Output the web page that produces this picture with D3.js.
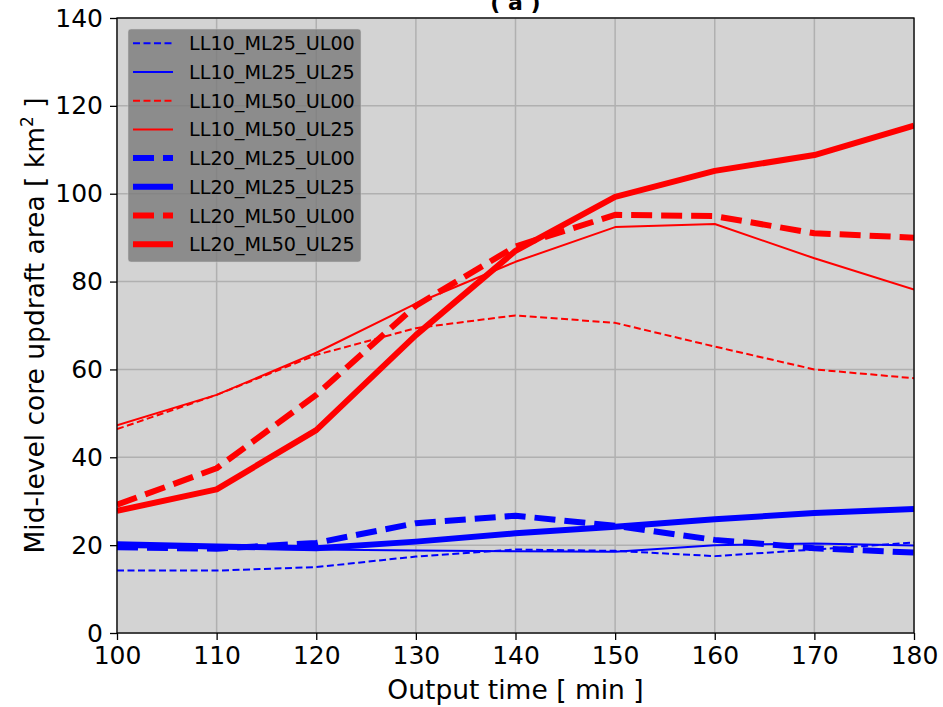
<!DOCTYPE html>
<html>
<head>
<meta charset="utf-8">
<script src="https://cdn.jsdelivr.net/npm/d3@7"></script>
<style>
  html, body { margin: 0; padding: 0; background: #fff; }
  svg { display: block; font-family: "DejaVu Sans", sans-serif; }
</style>
</head>
<body>
<svg id="chart" width="943" height="707"></svg>
<script>
// Mid-level core updraft area vs output time, panel (a)

const times = [100, 110, 120, 130, 140, 150, 160, 170, 180];
const xTicks = [100, 110, 120, 130, 140, 150, 160, 170, 180];
const yTicks = [0, 20, 40, 60, 80, 100, 120, 140];

const seriesNames = [
  "LL10_ML25_UL00", "LL10_ML25_UL25", "LL10_ML50_UL00", "LL10_ML50_UL25",
  "LL20_ML25_UL00", "LL20_ML25_UL25", "LL20_ML50_UL00", "LL20_ML50_UL25",
];
const ll10_ml25_ul00 = [14.2, 14.2, 15.0, 17.4, 19.0, 18.7, 17.5, 19.0, 20.6];
const ll10_ml25_ul25 = [19.6, 19.3, 19.0, 18.8, 18.6, 18.5, 20.0, 20.4, 19.9];
const ll10_ml50_ul00 = [46.4, 54.2, 63.3, 69.4, 72.3, 70.6, 65.2, 60.0, 58.0];
const ll10_ml50_ul25 = [47.3, 54.2, 63.8, 75.0, 84.5, 92.4, 93.1, 85.3, 78.2];
const ll20_ml25_ul00 = [19.5, 19.2, 20.5, 25.0, 26.7, 24.4, 21.2, 19.3, 18.3];
const ll20_ml25_ul25 = [20.2, 19.7, 19.3, 20.8, 22.7, 24.2, 25.9, 27.3, 28.2];
const ll20_ml50_ul00 = [29.2, 37.5, 54.2, 74.5, 88.0, 95.2, 94.9, 91.0, 90.0];
const ll20_ml50_ul25 = [27.8, 32.7, 46.2, 67.8, 87.0, 99.3, 105.2, 108.8, 115.5];

const seriesValues = [
  ll10_ml25_ul00, ll10_ml25_ul25, ll10_ml50_ul00, ll10_ml50_ul25,
  ll20_ml25_ul00, ll20_ml25_ul25, ll20_ml50_ul00, ll20_ml50_ul25,
];

// style per series: LL10 thin, LL20 thick; ML25 blue, ML50 red; UL00 dashed
function styleFor(name) {
  const thick = name.startsWith("LL20");
  return {
    color: name.includes("ML25") ? "#0000ff" : "#ff0000",
    width: thick ? 6 : 2,
    dash: name.endsWith("UL00") ? (thick ? "21,9" : "7,3.5") : null,
  };
}

const margin = { left: 117, right: 29, top: 18, bottom: 74 };
const W = 943, H = 707;
const iw = W - margin.left - margin.right;
const ih = H - margin.top - margin.bottom;

const x = d3.scaleLinear().domain([100, 180]).range([0, iw]);
const y = d3.scaleLinear().domain([0, 140]).range([ih, 0]);

const svg = d3.select("#chart");
const g = svg.append("g").attr("transform", `translate(${margin.left},${margin.top})`);

g.append("defs").append("clipPath").attr("id", "plot-clip")
  .append("rect").attr("width", iw).attr("height", ih);

g.append("rect").attr("width", iw).attr("height", ih).attr("fill", "#d3d3d3");

// Grid
g.append("g").selectAll("line").data(xTicks).enter().append("line")
  .attr("x1", d => x(d)).attr("x2", d => x(d))
  .attr("y1", 0).attr("y2", ih)
  .attr("stroke", "#b0b0b0").attr("stroke-width", 1.5);
g.append("g").selectAll("line").data(yTicks).enter().append("line")
  .attr("x1", 0).attr("x2", iw)
  .attr("y1", d => y(d)).attr("y2", d => y(d))
  .attr("stroke", "#b0b0b0").attr("stroke-width", 1.5);

// Lines
const line = d3.line().x((d, i) => x(times[i])).y(d => y(d));
const linesG = g.append("g").attr("clip-path", "url(#plot-clip)");
seriesNames.forEach((name, k) => {
  const s = styleFor(name);
  linesG.append("path")
    .datum(seriesValues[k])
    .attr("fill", "none")
    .attr("stroke", s.color)
    .attr("stroke-width", s.width)
    .attr("stroke-dasharray", s.dash)
    .attr("stroke-linejoin", "round")
    .attr("d", line);
});

// Axes
const xAxis = g.append("g").attr("transform", `translate(0,${ih})`)
  .call(d3.axisBottom(x).tickValues(xTicks).tickSize(7).tickPadding(6).tickFormat(d3.format("d")));
const yAxis = g.append("g")
  .call(d3.axisLeft(y).tickValues(yTicks).tickSize(7).tickPadding(7).tickFormat(d3.format("d")));
[xAxis, yAxis].forEach(a => {
  a.select(".domain").remove();
  a.selectAll(".tick line").attr("stroke", "#000").attr("stroke-width", 1.3);
  a.selectAll(".tick text").attr("fill", "#000").attr("font-size", 25)
    .attr("font-family", "DejaVu Sans, sans-serif");
});

// Frame
g.append("rect").attr("width", iw).attr("height", ih)
  .attr("fill", "none").attr("stroke", "#000").attr("stroke-width", 1.3);

// Axis labels and title
svg.append("text")
  .attr("x", margin.left + iw / 2).attr("y", 699)
  .attr("text-anchor", "middle").attr("font-size", 26.5)
  .text("Output time [ min ]");

const yl = svg.append("text")
  .attr("transform", `translate(44,${margin.top + ih / 2}) rotate(-90)`)
  .attr("text-anchor", "middle").attr("font-size", 26.5);
yl.append("tspan").text("Mid-level core updraft area [ km");
yl.append("tspan").attr("font-size", 17).attr("dy", -11).text("2");
yl.append("tspan").attr("dy", 11).text(" ]");

svg.append("text")
  .attr("x", margin.left + iw / 2).attr("y", 10)
  .attr("text-anchor", "middle").attr("font-size", 22).attr("font-weight", "bold")
  .text("( a )");

// Legend
const lg = svg.append("g").attr("transform", "translate(128,29)");
lg.append("rect").attr("width", 233).attr("height", 233).attr("rx", 3)
  .attr("fill", "#7a7a7a").attr("fill-opacity", 0.8)
  .attr("stroke", "#cccccc").attr("stroke-opacity", 0.5);
seriesNames.forEach((name, k) => {
  const s = styleFor(name);
  const cy = 14.3 + k * 28.7;
  lg.append("line")
    .attr("x1", 5).attr("x2", 45).attr("y1", cy).attr("y2", cy)
    .attr("stroke", s.color).attr("stroke-width", s.width)
    .attr("stroke-dasharray", s.dash);
  lg.append("text")
    .attr("x", 61).attr("y", cy + 7)
    .attr("font-size", 19.2).attr("fill", "#000")
    .text(name);
});
</script>
</body>
</html>
